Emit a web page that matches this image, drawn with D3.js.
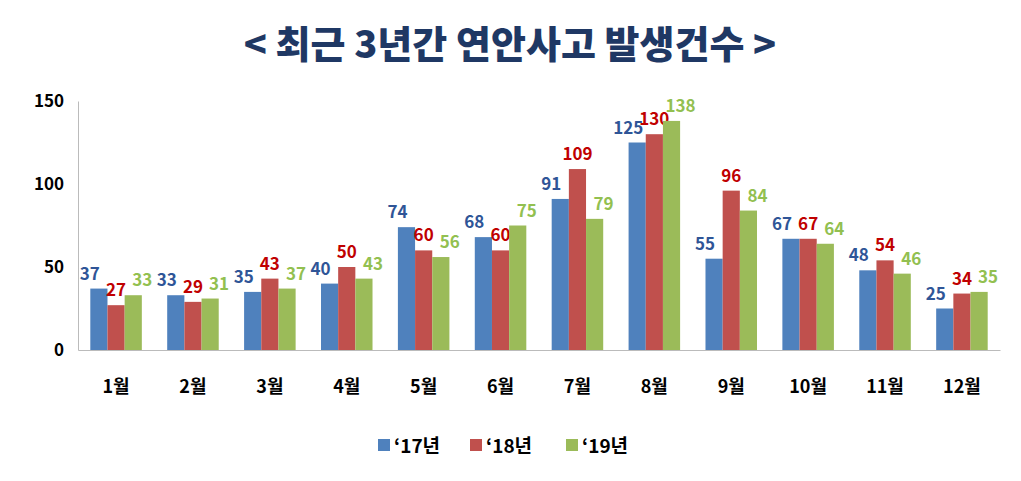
<!DOCTYPE html>
<html><head><meta charset="utf-8">
<script src="https://cdn.jsdelivr.net/npm/d3@7"></script>
<style>body{margin:0;background:#fff;}text{font-family:"Noto Sans CJK KR","Noto Sans",sans-serif;}</style>
</head><body><svg id="c" width="1021" height="481"></svg>
<script>
const months=["1월","2월","3월","4월","5월","6월","7월","8월","9월","10월","11월","12월"];
const seriesNames=["‘17년","‘18년","‘19년"];
const s17=[37,33,35,40,74,68,91,125,55,67,48,25];
const s18=[27,29,43,50,60,60,109,130,96,67,54,34];
const s19=[33,31,37,43,56,75,79,138,84,64,46,35];
const yTicks=[0,50,100,150];
const barColors=["#4f81bd","#c0504d","#9bbb59"];
const labelColors=["#2f5597","#c00000","#92c050"];
const labelShift=[-9,0,9];
const svg=d3.select("#c");
svg.append("text").attr("x",510).attr("y",58).attr("text-anchor","middle").attr("font-size",38).attr("font-weight","900").attr("fill","#1f3864").text("< 최근 3년간 연안사고 발생건수 >");
const x=d3.scaleBand().domain(months).range([78,1000]).paddingInner(0.33).paddingOuter(0.16);
const xs=d3.scaleBand().domain([0,1,2]).range([0,x.bandwidth()]);
const y=d3.scaleLinear().domain([0,150]).range([350,101]);
const ya=svg.append("g").attr("transform","translate(78,0)").call(d3.axisLeft(y).tickValues(yTicks).tickSize(0).tickPadding(14));
ya.select(".domain").attr("stroke","#bbb");
ya.selectAll("text").attr("font-size",17).attr("font-weight","bold").attr("fill","#000").attr("font-family","Liberation Sans,Arial,sans-serif");
const xa=svg.append("g").attr("transform","translate(0,350)").call(d3.axisBottom(x).tickSize(0).tickPadding(30));
xa.select(".domain").attr("stroke","#bbb");
xa.selectAll("text").attr("font-size",18).attr("font-weight","bold").attr("fill","#000");
const data=[s17,s18,s19];
data.forEach((s,i)=>{
  const g=svg.append("g");
  g.selectAll("rect").data(s).join("rect").attr("x",(d,j)=>x(months[j])+xs(i)).attr("y",d=>y(d)).attr("width",xs.bandwidth()).attr("height",d=>350-y(d)).attr("fill",barColors[i]);
  g.selectAll("text").data(s).join("text").attr("x",(d,j)=>x(months[j])+xs(i)+xs.bandwidth()/2+labelShift[i]).attr("y",d=>y(d)-9).attr("text-anchor","middle").attr("font-size",17).attr("font-weight","bold").attr("fill",labelColors[i]).attr("font-family","Liberation Sans,Arial,sans-serif").text(d=>d);
});
const lg=svg.append("g");
const lx=[378,470,566];
seriesNames.forEach((n,i)=>{
  lg.append("rect").attr("x",lx[i]).attr("y",439).attr("width",12).attr("height",12).attr("fill",barColors[i]);
  lg.append("text").attr("x",lx[i]+16).attr("y",453).attr("font-size",19).attr("font-weight","bold").attr("fill","#000").text(n);
});
</script></body></html>
